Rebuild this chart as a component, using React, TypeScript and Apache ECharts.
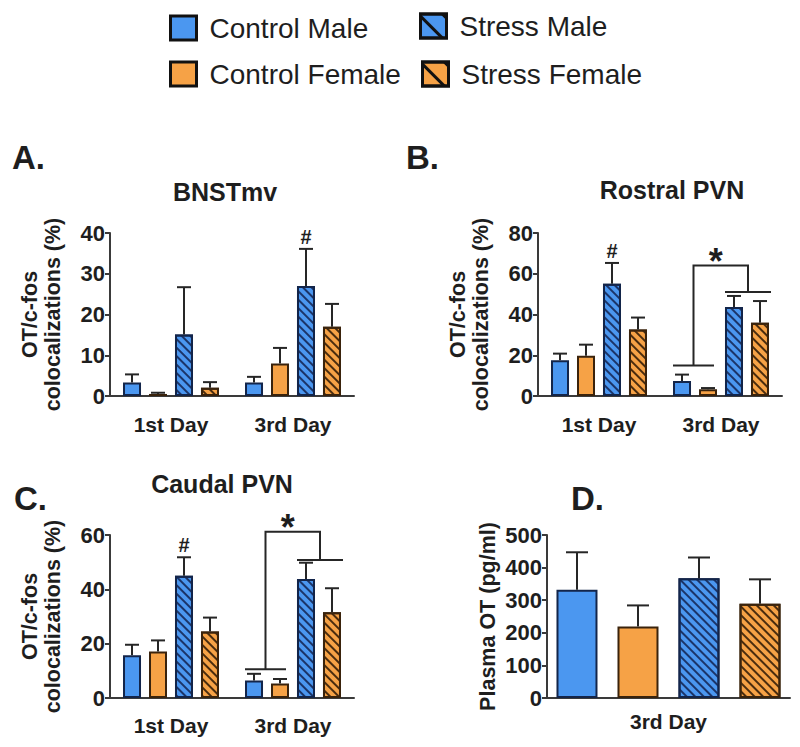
import React, { useEffect, useRef } from 'react';
import * as echarts from 'echarts';

// ---------- data ----------
const seriesNames = ['Control Male', 'Control Female', 'Stress Male', 'Stress Female'];
const dayCategories = ['1st Day', '3rd Day'];
const plasmaCategories = ['3rd Day'];

// rows: series (CM, CF, SM, SF); columns: categories
const bnstMeans = [[3.3, 3.3], [0.5, 8.0], [15.1, 27.0], [2.0, 17.0]];
const bnstErrors = [[2.0, 1.4], [0.3, 3.8], [11.6, 9.1], [1.4, 5.6]];

const rostralMeans = [[17.5, 7.4], [19.8, 3.3], [55.1, 43.7], [32.6, 36.0]];
const rostralErrors = [[3.3, 3.1], [5.4, 0.6], [10.2, 5.4], [5.9, 10.6]];

const caudalMeans = [[15.7, 6.4], [17.1, 5.3], [45.0, 43.8], [24.5, 31.6]];
const caudalErrors = [[3.9, 2.5], [4.1, 1.7], [6.8, 6.0], [5.1, 8.8]];

const plasmaMeans = [[332], [219], [367], [289]];
const plasmaErrors = [[115], [65], [64], [75]];

// '#' marks: [categoryIndex, seriesIndex]
const hashA = [[1, 2]];
const hashB = [[0, 2]];
const hashC = [[0, 2]];

// significance brackets: [categoryIndex, lowerLevel, topLevel, upperRightLevel]
const bracketB = [[1, 15, 64, 51]];
const bracketC = [[1, 10.6, 61.2, 50.8]];

// ---------- styles ----------
const FONT = '"Liberation Sans", Arial, Helvetica, sans-serif';
const TXT = '#1e1e1e';
const BLUE = '#4b97f0';
const ORANGE = '#f6a246';
const BLUE_EDGE = '#13254a';
const ORANGE_EDGE = '#3a230c';

const hatch = (color: string) => ({
  symbol: 'rect',
  symbolSize: 1,
  dashArrayX: [1, 0],
  dashArrayY: [1.7, 3.1],
  rotation: Math.PI / 4,
  color,
});

const itemStyles = [
  { color: BLUE, borderColor: BLUE_EDGE, borderWidth: 2 },
  { color: ORANGE, borderColor: ORANGE_EDGE, borderWidth: 2 },
  { color: BLUE, borderColor: BLUE_EDGE, borderWidth: 2, decal: hatch('#1b3468') },
  { color: ORANGE, borderColor: ORANGE_EDGE, borderWidth: 2, decal: hatch('#4a2c0e') },
];

type Panel = {
  cats: string[];
  means: number[][];
  errors: number[][];
  yMax: number;
  yInterval: number;
  grid: { left: number; top: number; width: number; height: number };
  barWidth: number;
  gap: number;
  cap: number;
  yName: string;
  nameGap: number;
  labelMargin: number;
  hash: number[][];
  bracket: number[][];
};

const panels: Panel[] = [
  {
    cats: dayCategories, means: bnstMeans, errors: bnstErrors, yMax: 40, yInterval: 10,
    grid: { left: 110, top: 233, width: 244, height: 163 }, barWidth: 18, gap: 8, cap: 14,
    yName: 'OT/c-fos\ncolocalizations (%)', nameGap: 46, labelMargin: 18, hash: hashA, bracket: [],
  },
  {
    cats: dayCategories, means: rostralMeans, errors: rostralErrors, yMax: 80, yInterval: 20,
    grid: { left: 538, top: 233, width: 244, height: 163 }, barWidth: 18, gap: 8, cap: 14,
    yName: 'OT/c-fos\ncolocalizations (%)', nameGap: 46, labelMargin: 18, hash: hashB, bracket: bracketB,
  },
  {
    cats: dayCategories, means: caudalMeans, errors: caudalErrors, yMax: 60, yInterval: 20,
    grid: { left: 110, top: 535, width: 244, height: 163 }, barWidth: 18, gap: 8, cap: 14,
    yName: 'OT/c-fos\ncolocalizations (%)', nameGap: 46, labelMargin: 17, hash: hashC, bracket: bracketC,
  },
  {
    cats: plasmaCategories, means: plasmaMeans, errors: plasmaErrors, yMax: 500, yInterval: 100,
    grid: { left: 547, top: 535, width: 243, height: 163 }, barWidth: 41, gap: 20, cap: 22,
    yName: 'Plasma OT (pg/ml)', nameGap: 48, labelMargin: 13, hash: [], bracket: [],
  },
];

function buildOption() {
  const grids: any[] = [];
  const xAxes: any[] = [];
  const yAxes: any[] = [];
  const series: any[] = [];

  panels.forEach((p, pi) => {
    grids.push({ ...p.grid, containLabel: false });
    xAxes.push({
      type: 'category',
      gridIndex: pi,
      data: p.cats,
      axisLine: { lineStyle: { color: '#3a3a3a', width: 2 } },
      axisTick: { alignWithLabel: true, length: 4, lineStyle: { color: '#555', width: 1.5 } },
      axisLabel: { fontSize: 21, fontWeight: 'bold', color: TXT, fontFamily: FONT, margin: p.labelMargin },
    });
    yAxes.push({
      type: 'value',
      gridIndex: pi,
      min: 0,
      max: p.yMax,
      interval: p.yInterval,
      splitLine: { show: false },
      axisLine: { show: true, lineStyle: { color: '#3a3a3a', width: 2 } },
      axisTick: { show: true, length: 5, lineStyle: { color: '#3a3a3a', width: 2 } },
      axisLabel: { fontSize: 22, fontWeight: 'bold', color: TXT, fontFamily: FONT, margin: 5 },
      name: p.yName,
      nameLocation: 'middle',
      nameRotate: 90,
      nameGap: p.nameGap,
      nameTextStyle: { fontSize: 21.5, fontWeight: 'bold', color: TXT, fontFamily: FONT, lineHeight: 23 },
    });

    const step = p.barWidth + p.gap;
    const gapPct = ((p.gap / p.barWidth) * 100).toFixed(1) + '%';

    seriesNames.forEach((name, si) => {
      series.push({
        type: 'bar',
        name,
        xAxisIndex: pi,
        yAxisIndex: pi,
        data: p.means[si],
        barWidth: p.barWidth,
        barGap: gapPct,
        itemStyle: itemStyles[si],
        emphasis: { disabled: true },
        z: 2,
      });
    });

    // error bars
    const errRows: number[][] = [];
    p.means.forEach((row, si) => row.forEach((m, ci) => errRows.push([ci, si, m, p.errors[si][ci]])));
    series.push({
      type: 'custom',
      xAxisIndex: pi,
      yAxisIndex: pi,
      data: errRows,
      encode: { x: 0, y: 2 },
      z: 5,
      silent: true,
      renderItem: (params: any, api: any) => {
        const ci = api.value(0);
        const si = api.value(1);
        const m = api.value(2);
        const e = api.value(3);
        const base = api.coord([ci, m]);
        const top = api.coord([ci, m + e]);
        const x = base[0] + (si - 1.5) * step;
        const st = { stroke: '#262626', lineWidth: 2 };
        return {
          type: 'group',
          children: [
            { type: 'line', shape: { x1: x, y1: base[1], x2: x, y2: top[1] }, style: st },
            { type: 'line', shape: { x1: x - p.cap / 2, y1: top[1], x2: x + p.cap / 2, y2: top[1] }, style: st },
          ],
        };
      },
    });

    if (p.hash.length) {
      series.push({
        type: 'custom',
        xAxisIndex: pi,
        yAxisIndex: pi,
        data: p.hash,
        encode: { x: 0 },
        z: 6,
        silent: true,
        renderItem: (params: any, api: any) => {
          const ci = api.value(0);
          const si = api.value(1);
          const topVal = p.means[si][ci] + p.errors[si][ci];
          const pt = api.coord([ci, topVal]);
          return {
            type: 'text',
            x: pt[0] + (si - 1.5) * step,
            y: pt[1] - 12,
            style: { text: '#', fontSize: 20, fontWeight: 'bold', fontFamily: FONT, fill: TXT, align: 'center', verticalAlign: 'middle' },
          };
        },
      });
    }

    if (p.bracket.length) {
      series.push({
        type: 'custom',
        xAxisIndex: pi,
        yAxisIndex: pi,
        data: p.bracket,
        encode: { x: 0 },
        z: 6,
        silent: true,
        renderItem: (params: any, api: any) => {
          const ci = api.value(0);
          const low = api.coord([ci, api.value(1)]);
          const yTop = api.coord([ci, api.value(2)])[1];
          const yHigh = api.coord([ci, api.value(3)])[1];
          const cx = low[0];
          const bx = (si: number) => cx + (si - 1.5) * step;
          const l1 = bx(0) - p.barWidth / 2;
          const r1 = bx(1) + p.barWidth / 2 - 3;
          const l2 = bx(2) - p.barWidth / 2;
          const r2 = bx(3) + p.barWidth / 2 + 2;
          const m1 = (l1 + r1) / 2;
          const m2 = (l2 + r2) / 2;
          const st = { stroke: '#262626', lineWidth: 2, fill: 'none' };
          return {
            type: 'group',
            children: [
              { type: 'line', shape: { x1: l1, y1: low[1], x2: r1, y2: low[1] }, style: st },
              { type: 'line', shape: { x1: l2, y1: yHigh, x2: r2, y2: yHigh }, style: st },
              { type: 'polyline', shape: { points: [[m1, low[1]], [m1, yTop], [m2, yTop], [m2, yHigh]] }, style: st },
              {
                type: 'text',
                x: (m1 + m2) / 2 - 5,
                y: yTop - 4,
                style: { text: '*', fontSize: 36, fontWeight: 'bold', fontFamily: FONT, fill: TXT, align: 'center', verticalAlign: 'middle' },
              },
            ],
          };
        },
      });
    }
  });

  const legendBase = {
    orient: 'horizontal',
    icon: 'rect',
    itemWidth: 26,
    itemHeight: 24,
    padding: 0,
    selectedMode: false,
    textStyle: { fontSize: 28, color: TXT, fontFamily: FONT, padding: [0, 0, 0, 8] },
    itemStyle: { borderColor: '#111', borderWidth: 3 },
  };
  const legendLine = (color: string) => ({
    symbol: 'rect', symbolSize: 1, dashArrayX: [1, 0], dashArrayY: [3, 14], rotation: Math.PI / 4, color,
  });

  const legends = [
    { ...legendBase, left: 169, top: 14, data: [{ name: 'Control Male' }] },
    { ...legendBase, left: 419, top: 12, data: [{ name: 'Stress Male', itemStyle: { decal: legendLine('#111') } }] },
    { ...legendBase, left: 169, top: 60, data: [{ name: 'Control Female' }] },
    { ...legendBase, left: 421, top: 60, data: [{ name: 'Stress Female', itemStyle: { decal: legendLine('#111') } }] },
  ];

  const t = (text: string, x: number, y: number, fontSize: number, align = 'center') => ({
    type: 'text',
    x,
    y,
    style: { text, fontSize, fontWeight: 'bold', fontFamily: FONT, fill: TXT, align, verticalAlign: 'middle' },
  });

  const graphic = [
    t('A.', 12, 157, 33, 'left'),
    t('B.', 406, 157, 33, 'left'),
    t('C.', 14, 498, 33, 'left'),
    t('D.', 571, 498, 33, 'left'),
    t('BNSTmv', 225, 192, 25),
    t('Rostral PVN', 672, 190, 25),
    t('Caudal PVN', 222, 484, 25),
  ];

  return {
    animation: false,
    backgroundColor: '#ffffff',
    grid: grids,
    xAxis: xAxes,
    yAxis: yAxes,
    legend: legends,
    graphic,
    series,
  };
}

export default function App() {
  const ref = useRef<HTMLDivElement>(null);
  useEffect(() => {
    if (!ref.current) return;
    const chart = echarts.init(ref.current, undefined, { renderer: 'svg' });
    chart.setOption(buildOption() as any);
    return () => chart.dispose();
  }, []);
  return (
    <div
      ref={ref}
      style={{ position: 'fixed', left: 0, top: 0, width: 800, height: 747, background: '#fff' }}
    />
  );
}
